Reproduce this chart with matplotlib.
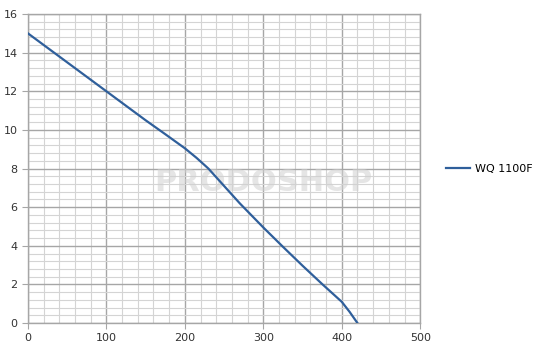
import matplotlib.pyplot as plt
import numpy as np
from matplotlib.ticker import MultipleLocator

# flow (x) vs head (y)
flow = [0, 50, 100, 150, 175, 200, 215, 230, 250, 270, 300, 325, 350, 375, 400, 410, 420]
head = [15, 13.5, 12, 10.5, 9.78, 9.05, 8.55, 8.0, 7.1, 6.2, 4.95, 3.95, 2.97, 2.02, 1.1, 0.58, 0]
series_name = "WQ 1100F"

fig = plt.figure(figsize=(5.36, 3.5), dpi=100)
ax = fig.add_axes([0.052, 0.077, 0.732, 0.883])

ax.plot(flow, head, color='#2f5f9b', linewidth=1.6, label=series_name, zorder=3,
        solid_joinstyle='round')

ax.set_xlim(0, 500)
ax.set_ylim(0, 16)
ax.xaxis.set_major_locator(MultipleLocator(100))
ax.xaxis.set_minor_locator(MultipleLocator(20))
ax.yaxis.set_major_locator(MultipleLocator(2))
ax.yaxis.set_minor_locator(MultipleLocator(0.4))

ax.grid(which='major', color='#a6a6a6', linewidth=1.0)
ax.grid(which='minor', color='#d4d4d4', linewidth=0.8)
ax.set_axisbelow(True)

for s in ax.spines.values():
    s.set_color('#a6a6a6')
    s.set_linewidth(1.0)

ax.tick_params(which='major', length=4, color='#a6a6a6', labelsize=8, labelcolor='#333333')
ax.tick_params(which='minor', length=0)

# faint watermark
ax.text(300, 7.3, "PRODOSHOP", fontsize=22, fontweight='bold', color='#d0d0d0',
        alpha=0.55, ha='center', va='center', zorder=1)

ax.legend(loc='center left', bbox_to_anchor=(1.04, 0.5), frameon=False,
          fontsize=8, handlelength=2.2, handletextpad=0.4)

fig.savefig('out.png', dpi=100)
